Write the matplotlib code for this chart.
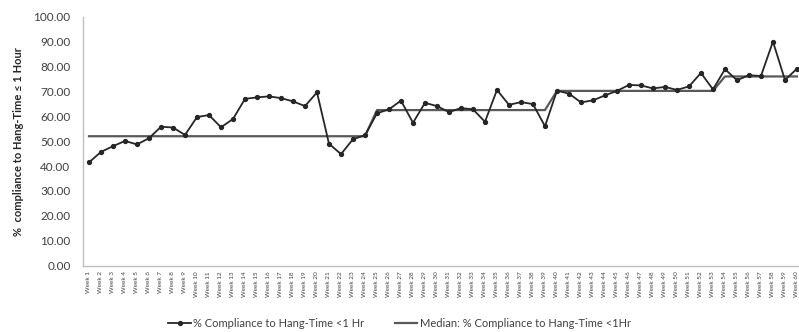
import matplotlib
matplotlib.use("Agg")
import matplotlib.pyplot as plt
from matplotlib.ticker import FormatStrFormatter

plt.rcParams['font.family'] = ['Lato', 'DejaVu Sans']

# --- DATA ---
weeks = [f"Week {i}" for i in range(1, 61)]
compliance = [
    41.5, 45.7, 48.0, 50.1, 48.7, 51.2, 55.8, 55.5, 52.5, 59.7,
    60.5, 55.6, 58.9, 67.0, 67.6, 68.0, 67.3, 66.0, 64.1, 69.6,
    49.0, 44.8, 50.8, 52.4, 61.2, 62.8, 66.3, 57.4, 65.4, 64.1,
    61.7, 63.3, 62.8, 57.8, 70.6, 64.6, 65.7, 64.9, 56.0, 70.3,
    69.1, 65.6, 66.4, 68.4, 70.2, 72.6, 72.4, 71.2, 71.8, 70.6,
    72.0, 77.4, 70.8, 78.9, 74.5, 76.5, 76.2, 90.0, 74.6, 79.1,
]
median = [52.0] * 24 + [62.5] * 15 + [70.2] * 14 + [76.0] * 7

x = list(range(1, len(weeks) + 1))

fig = plt.figure(figsize=(7.99, 3.32), dpi=100)
ax = fig.add_axes([83 / 799, 0.1997, 1 - 83 / 799, 0.9497 - 0.1997])

ax.plot(x, compliance, color='#262626', lw=1.3, marker='o', ms=2.8,
        label='% Compliance to Hang-Time <1 Hr', zorder=3)
ax.plot(x, median, color='#595959', lw=1.6,
        label='Median: % Compliance to Hang-Time <1Hr', zorder=2)

ax.set_xlim(0.5, 60.17)
ax.set_ylim(0, 100)
ax.set_yticks(range(0, 101, 10))
ax.yaxis.set_major_formatter(FormatStrFormatter('%.2f'))
ax.set_xticks(x)
ax.set_xticklabels(weeks, rotation=90, fontsize=4.6, color='#404040')
ax.tick_params(axis='y', labelsize=8.5, colors='#404040', length=0, pad=9)
ax.tick_params(axis='x', length=0, pad=4)

for s in ['top', 'right']:
    ax.spines[s].set_visible(False)
for s in ['left', 'bottom']:
    ax.spines[s].set_color('#bfbfbf')
    ax.spines[s].set_linewidth(1.0)

ax.set_ylabel('%  compliance to Hang-Time \u2264 1 Hour', fontsize=8,
              fontweight='bold', color='#262626', labelpad=7)

fig.legend(loc='center', bbox_to_anchor=(0.5, 0.027), ncol=2, frameon=False,
           fontsize=8, handlelength=2.0, handletextpad=0.2, columnspacing=2.8,
           labelcolor='#404040')

fig.savefig('out.png', dpi=100)
